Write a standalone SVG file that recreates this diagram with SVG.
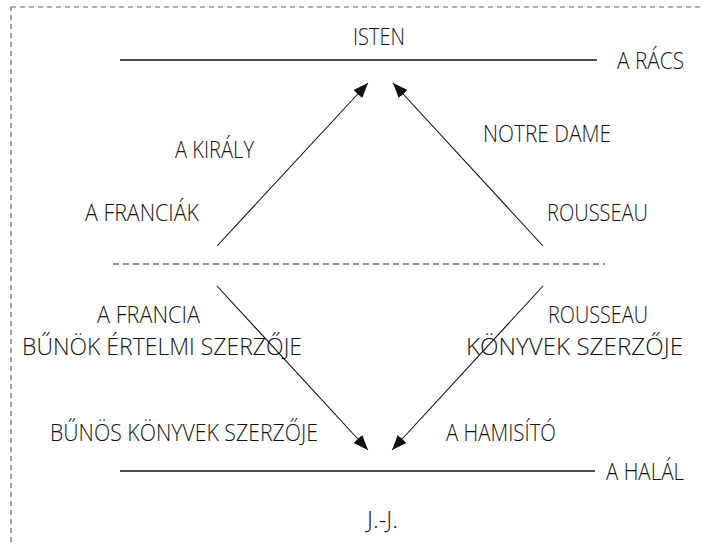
<svg xmlns="http://www.w3.org/2000/svg" width="703" height="546" viewBox="0 0 703 546">
<style>
text{font-family:"Open Sans","Liberation Sans",sans-serif;font-weight:300;font-size:23px;fill:#111}
.solid{stroke:#111;stroke-width:1.3;fill:none}
.arrow{stroke:#111;stroke-width:1.1;fill:none;marker-end:url(#ah)}
.dash{stroke:#222;stroke-width:1.1;stroke-dasharray:6 4;fill:none}
.border{stroke:#666;stroke-width:1.2;stroke-dasharray:5 4;fill:none}
</style>
<defs>
<marker id="ah" markerUnits="userSpaceOnUse" markerWidth="16" markerHeight="12" viewBox="0 0 16 12" refX="15" refY="6" orient="auto">
<path d="M0,0 L15,6 L0,12 z" fill="#111"/>
</marker>
</defs>
<rect class="border" x="11" y="7" width="720" height="560"/>
<g id="levels">
<line class="solid" x1="120" y1="60" x2="597" y2="60"/>
<line class="dash" x1="113" y1="264" x2="605" y2="264"/>
<line class="solid" x1="120" y1="471" x2="595" y2="471"/>
</g>
<g id="connectors">
<line class="arrow" x1="217" y1="246" x2="368" y2="83"/>
<line class="arrow" x1="543" y1="246" x2="393" y2="83"/>
<line class="arrow" x1="217" y1="286" x2="368" y2="450"/>
<line class="arrow" x1="543" y1="286" x2="392" y2="450"/>
</g>
<g id="isten"><text x="353" y="45" textLength="52" lengthAdjust="spacingAndGlyphs">ISTEN</text></g>
<g id="racs"><text x="617" y="69" textLength="67" lengthAdjust="spacingAndGlyphs">A RÁCS</text></g>
<g id="kiraly"><text x="175" y="158" textLength="79" lengthAdjust="spacingAndGlyphs">A KIRÁLY</text></g>
<g id="franciak"><text x="85" y="221" textLength="114" lengthAdjust="spacingAndGlyphs">A FRANCIÁK</text></g>
<g id="notredame"><text x="483" y="142" textLength="128" lengthAdjust="spacingAndGlyphs">NOTRE DAME</text></g>
<g id="rousseau1"><text x="547" y="221" textLength="101" lengthAdjust="spacingAndGlyphs">ROUSSEAU</text></g>
<g id="francia"><text x="97" y="323" textLength="103" lengthAdjust="spacingAndGlyphs">A FRANCIA</text></g>
<g id="rousseau2"><text x="548" y="323" textLength="100" lengthAdjust="spacingAndGlyphs">ROUSSEAU</text></g>
<g id="bunok"><text x="22" y="355" textLength="280" lengthAdjust="spacingAndGlyphs">BŰNÖK ÉRTELMI SZERZŐJE</text></g>
<g id="konyvek"><text x="466" y="355" textLength="217" lengthAdjust="spacingAndGlyphs">KÖNYVEK SZERZŐJE</text></g>
<g id="bunos"><text x="50" y="441" textLength="268" lengthAdjust="spacingAndGlyphs">BŰNÖS KÖNYVEK SZERZŐJE</text></g>
<g id="hamisito"><text x="446" y="441" textLength="110" lengthAdjust="spacingAndGlyphs">A HAMISÍTÓ</text></g>
<g id="halal"><text x="606" y="480" textLength="78" lengthAdjust="spacingAndGlyphs">A HALÁL</text></g>
<g id="jj"><text x="367" y="528" textLength="31" lengthAdjust="spacingAndGlyphs">J.-J.</text></g>
</svg>
